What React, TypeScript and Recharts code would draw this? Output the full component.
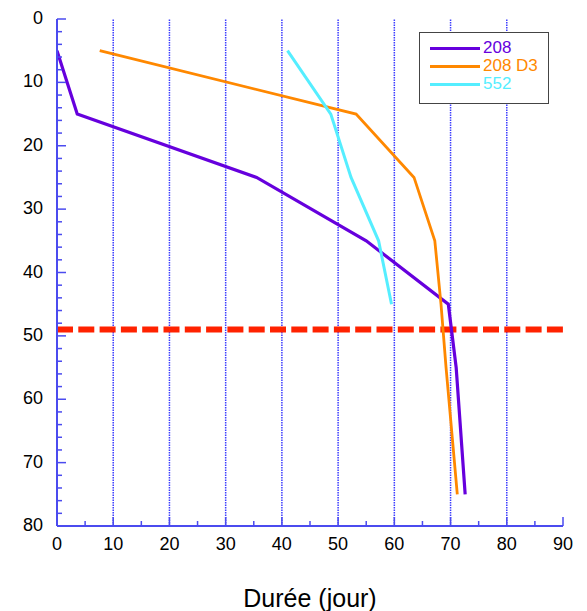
import { LineChart, Line, XAxis, YAxis, ReferenceLine } from 'recharts';

// durée (jour) vs profondeur, one pair of arrays per series
const dur208 = [0, 3.6, 35.5, 55, 69.6, 71, 72.6];
const depth208 = [5, 15, 25, 35, 45, 55, 75];
const durD3 = [7.6, 53.2, 63.5, 67.2, 68.3, 69.2, 71.2];
const depthD3 = [5, 15, 25, 35, 45, 55, 75];
const dur552 = [41, 48.7, 52.3, 57.2, 59.5];
const depth552 = [5, 15, 25, 35, 45];

const limitDepth = 49;

const xTicks = [0, 5, 10, 15, 20, 25, 30, 35, 40, 45, 50, 55, 60, 65, 70, 75, 80, 85, 90];
const yTicks = [
  0, 2, 4, 6, 8, 10, 12, 14, 16, 18, 20, 22, 24, 26, 28, 30, 32, 34, 36, 38, 40,
  42, 44, 46, 48, 50, 52, 54, 56, 58, 60, 62, 64, 66, 68, 70, 72, 74, 76, 78, 80,
];
const gridX = [10, 20, 30, 40, 50, 60, 70, 80];

const toPoints = (xs: number[], ys: number[]) => xs.map((x, i) => ({ x, y: ys[i] }));

const series = [
  { name: '208', color: '#6600dd', data: toPoints(dur208, depth208), width: 3.2 },
  { name: '208 D3', color: '#ff8800', data: toPoints(durD3, depthD3), width: 2.8 },
  { name: '552', color: '#55eeff', data: toPoints(dur552, depth552), width: 3 },
];

const AXIS = '#4b4bef';
const FONT = '"Liberation Sans", Arial, Helvetica, sans-serif';
const MAJOR = 9;
const MINOR = 5;
// plot frame, set by the chart margins / axis sizes below
const PLOT = { left: 57, right: 563, top: 19, bottom: 526 };

function BottomTick(props: any) {
  const { x, payload } = props;
  const major = payload.value % 10 === 0;
  const y = PLOT.bottom;
  return (
    <g>
      <line x1={x} y1={y} x2={x} y2={y - (major ? MAJOR : MINOR)} stroke={AXIS} strokeWidth={1.5} />
      {major && (
        <text x={x} y={y + 23.5} textAnchor="middle" fontSize={18} fontFamily={FONT} fill="#000">
          {payload.value}
        </text>
      )}
    </g>
  );
}

function TopTick(props: any) {
  const { x, payload } = props;
  const major = payload.value % 10 === 0;
  const y = PLOT.top;
  return <line x1={x} y1={y} x2={x} y2={y + (major ? MAJOR : MINOR)} stroke={AXIS} strokeWidth={1.5} />;
}

function LeftTick(props: any) {
  const { y, payload } = props;
  const major = payload.value % 10 === 0;
  const x = PLOT.left;
  return (
    <g>
      <line x1={x} y1={y} x2={x + (major ? MAJOR : MINOR)} y2={y} stroke={AXIS} strokeWidth={1.5} />
      {major && (
        <text x={x - 14} y={y + 5} textAnchor="end" fontSize={18} fontFamily={FONT} fill="#000">
          {payload.value}
        </text>
      )}
    </g>
  );
}

function RightTick(props: any) {
  const { y, payload } = props;
  const major = payload.value % 10 === 0;
  const x = PLOT.right;
  return <line x1={x} y1={y} x2={x - (major ? MAJOR : MINOR)} y2={y} stroke={AXIS} strokeWidth={1.5} />;
}

function LegendBox() {
  return (
    <div
      style={{
        position: 'absolute',
        left: 419,
        top: 32,
        width: 128,
        height: 64,
        border: '1.5px solid #444',
        background: '#fff',
        paddingTop: 6,
        fontFamily: FONT,
        fontSize: 17,
      }}
    >
      {series.map((s) => (
        <div key={s.name} style={{ display: 'flex', alignItems: 'center', height: 18 }}>
          <div style={{ width: 50, height: 3, background: s.color, marginLeft: 10, marginRight: 3 }} />
          <span style={{ color: s.color, lineHeight: '18px' }}>{s.name}</span>
        </div>
      ))}
    </div>
  );
}

export default function App() {
  return (
    <div style={{ position: 'absolute', left: 0, top: 0, width: 587, height: 611, background: '#fff' }}>
      <LineChart width={587} height={611} margin={{ top: 19, right: 24, bottom: 0, left: 0 }}>
        {gridX.map((g) => (
          <ReferenceLine
            key={g}
            x={g}
            xAxisId="bottom"
            yAxisId="left"
            stroke="#3c3cff"
            strokeWidth={1.5}
            strokeDasharray="1.5 1"
          />
        ))}
        <XAxis
          xAxisId="bottom"
          type="number"
          dataKey="x"
          domain={[0, 90]}
          ticks={xTicks}
          interval={0}
          height={85}
          tickLine={false}
          axisLine={{ stroke: AXIS, strokeWidth: 2 }}
          tick={<BottomTick />}
          allowDataOverflow
          label={{
            value: 'Durée (jour)',
            position: 'insideBottom',
            offset: 4,
            style: { fontSize: 25, fontFamily: FONT, fill: '#000' },
          }}
        />
        <XAxis
          xAxisId="top"
          orientation="top"
          type="number"
          dataKey="x"
          domain={[0, 90]}
          ticks={xTicks}
          interval={0}
          height={0}
          tickLine={false}
          axisLine={{ stroke: AXIS, strokeWidth: 2 }}
          tick={<TopTick />}
          allowDataOverflow
        />
        <YAxis
          yAxisId="left"
          type="number"
          dataKey="y"
          domain={[0, 80]}
          reversed
          ticks={yTicks}
          interval={0}
          width={57}
          tickLine={false}
          axisLine={{ stroke: AXIS, strokeWidth: 2 }}
          tick={<LeftTick />}
          allowDataOverflow
        />
        <YAxis
          yAxisId="right"
          orientation="right"
          type="number"
          dataKey="y"
          domain={[0, 80]}
          reversed
          ticks={yTicks}
          interval={0}
          width={0}
          tickLine={false}
          axisLine={{ stroke: AXIS, strokeWidth: 2 }}
          tick={<RightTick />}
          allowDataOverflow
        />
        <ReferenceLine
          y={limitDepth}
          xAxisId="bottom"
          yAxisId="left"
          stroke="#ff2200"
          strokeWidth={6}
          strokeDasharray="16 5.3"
        />
        {series.map((s) => (
          <Line
            key={s.name}
            xAxisId="bottom"
            yAxisId="left"
            data={s.data}
            dataKey="y"
            name={s.name}
            stroke={s.color}
            strokeWidth={s.width}
            dot={false}
            type="linear"
            isAnimationActive={false}
          />
        ))}
      </LineChart>
      <LegendBox />
    </div>
  );
}
